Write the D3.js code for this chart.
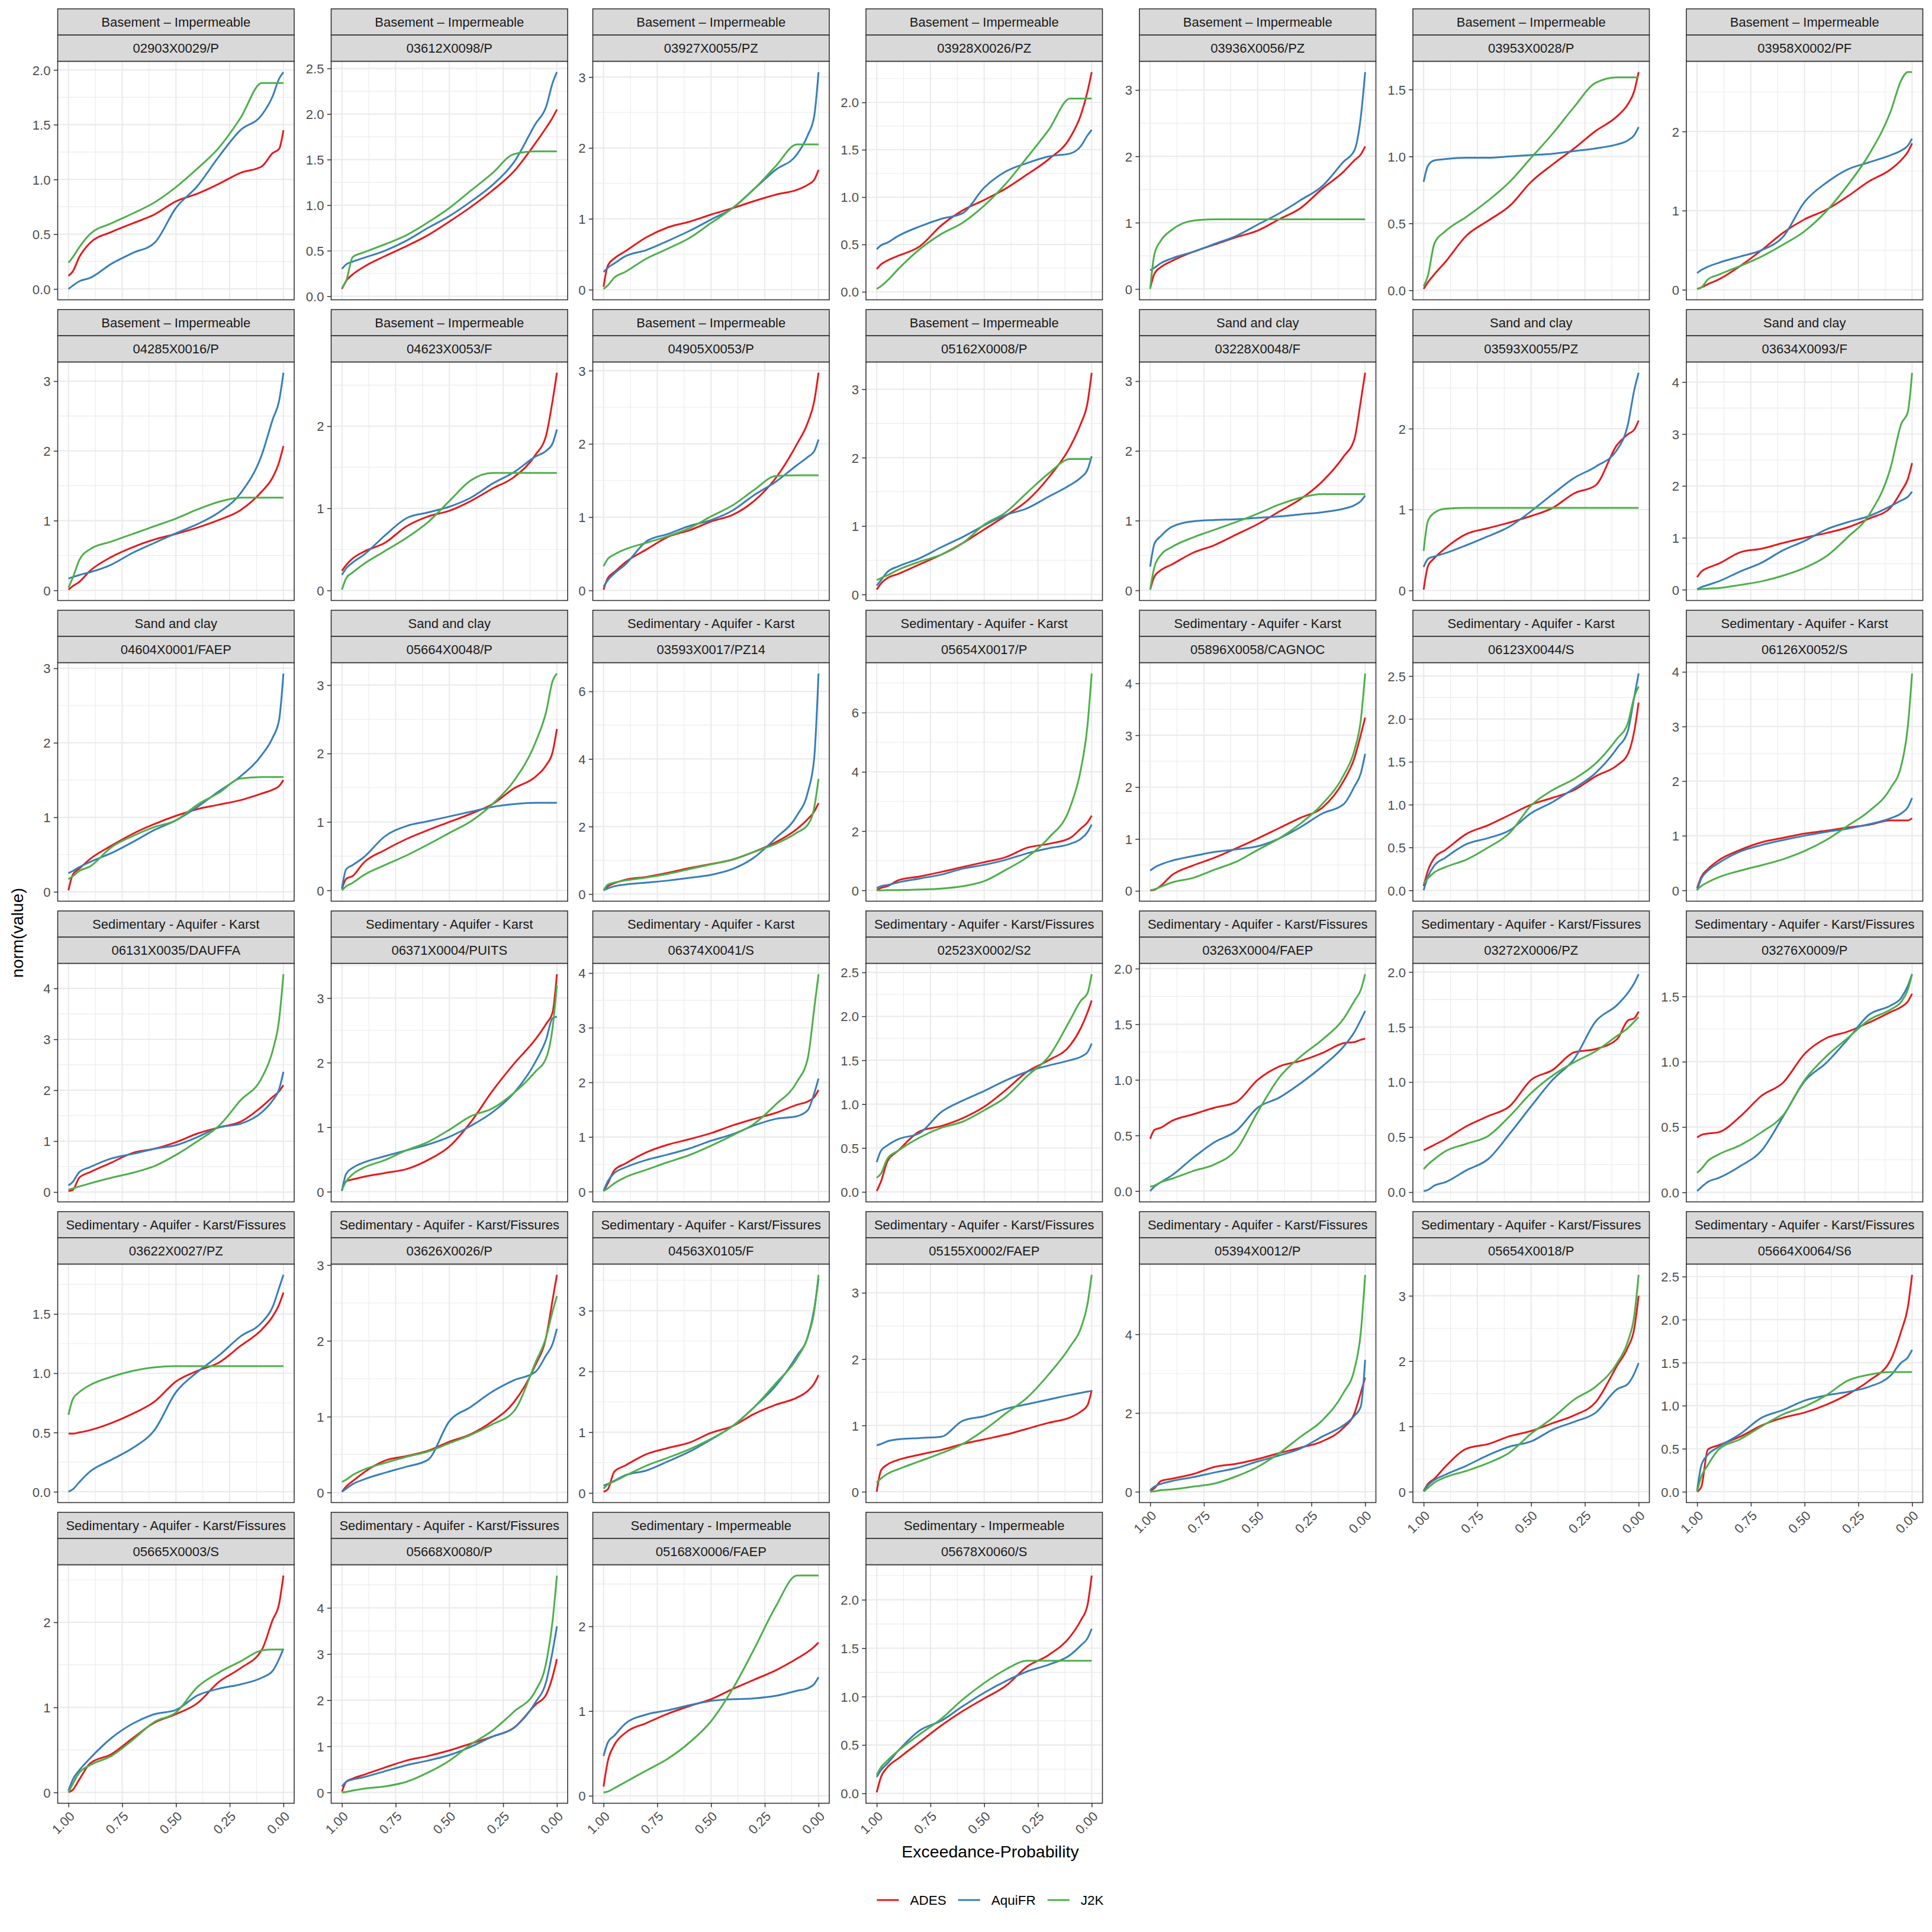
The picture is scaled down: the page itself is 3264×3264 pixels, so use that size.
<!DOCTYPE html>
<html><head><meta charset="utf-8">
<script src="https://cdn.jsdelivr.net/npm/d3@7"></script>
<style>html,body{margin:0;padding:0;background:#fff;}svg{display:block;}</style>
</head><body>
<script>
// ---------------- data ----------------
const probs = [1, 0.98, 0.95, 0.9, 0.8, 0.7, 0.6, 0.5, 0.4, 0.3, 0.2, 0.1, 0.05, 0.02, 0];
const seriesNames = ["ADES", "AquiFR", "J2K"];
const seriesColors = ["#E41A1C", "#377EB8", "#4DAF4A"];
const xTickValues = [1, 0.75, 0.5, 0.25, 0];
const xTickLabels = ["1.00", "0.75", "0.50", "0.25", "0.00"];
const xMinorValues = [0.875, 0.625, 0.375, 0.125];
const xTitle = "Exceedance-Probability";
const yTitle = "norm(value)";

const BI = "Basement \u2013 Impermeable", SC = "Sand and clay", SK = "Sedimentary - Aquifer - Karst",
      SKF = "Sedimentary - Aquifer - Karst/Fissures", SI = "Sedimentary - Impermeable";
const categories = [BI,BI,BI,BI,BI,BI,BI, BI,BI,BI,BI,SC,SC,SC, SC,SC,SK,SK,SK,SK,SK,
  SK,SK,SK,SKF,SKF,SKF,SKF, SKF,SKF,SKF,SKF,SKF,SKF,SKF, SKF,SKF,SI,SI];
const stations = ["02903X0029/P","03612X0098/P","03927X0055/PZ","03928X0026/PZ","03936X0056/PZ","03953X0028/P","03958X0002/PF",
  "04285X0016/P","04623X0053/F","04905X0053/P","05162X0008/P","03228X0048/F","03593X0055/PZ","03634X0093/F",
  "04604X0001/FAEP","05664X0048/P","03593X0017/PZ14","05654X0017/P","05896X0058/CAGNOC","06123X0044/S","06126X0052/S",
  "06131X0035/DAUFFA","06371X0004/PUITS","06374X0041/S","02523X0002/S2","03263X0004/FAEP","03272X0006/PZ","03276X0009/P",
  "03622X0027/PZ","03626X0026/P","04563X0105/F","05155X0002/FAEP","05394X0012/P","05654X0018/P","05664X0064/S6",
  "05665X0003/S","05668X0080/P","05168X0006/FAEP","05678X0060/S"];
const yTicks = [
  [0,0.5,1,1.5,2],[0,0.5,1,1.5,2,2.5],[0,1,2,3],[0,0.5,1,1.5,2],[0,1,2,3],[0,0.5,1,1.5],[0,1,2],
  [0,1,2,3],[0,1,2],[0,1,2,3],[0,1,2,3],[0,1,2,3],[0,1,2],[0,1,2,3,4],
  [0,1,2,3],[0,1,2,3],[0,2,4,6],[0,2,4,6],[0,1,2,3,4],[0,0.5,1,1.5,2,2.5],[0,1,2,3,4],
  [0,1,2,3,4],[0,1,2,3],[0,1,2,3,4],[0,0.5,1,1.5,2,2.5],[0,0.5,1,1.5,2],[0,0.5,1,1.5,2],[0,0.5,1,1.5],
  [0,0.5,1,1.5],[0,1,2,3],[0,1,2,3],[0,1,2,3],[0,2,4],[0,1,2,3],[0,0.5,1,1.5,2,2.5],
  [0,1,2],[0,1,2,3,4],[0,1,2],[0,0.5,1,1.5,2]];

const adesValues = [
  [0.12,0.16,0.29,0.42,0.52,0.60,0.68,0.80,0.87,0.96,1.06,1.12,1.24,1.28,1.45],
  [0.08,0.17,0.24,0.32,0.44,0.55,0.67,0.82,0.98,1.16,1.37,1.68,1.85,1.96,2.05],
  [0.04,0.34,0.44,0.54,0.74,0.88,0.96,1.06,1.15,1.25,1.34,1.41,1.48,1.55,1.69],
  [0.24,0.29,0.33,0.38,0.48,0.70,0.86,0.97,1.09,1.24,1.40,1.63,1.87,2.11,2.32],
  [0.01,0.23,0.33,0.42,0.56,0.67,0.78,0.88,1.05,1.22,1.51,1.77,1.94,2.03,2.15],
  [0.01,0.06,0.12,0.21,0.41,0.52,0.63,0.81,0.94,1.06,1.19,1.30,1.39,1.49,1.63],
  [0.01,0.03,0.07,0.13,0.30,0.50,0.72,0.89,1.01,1.18,1.37,1.52,1.64,1.74,1.85],
  [0.01,0.06,0.12,0.28,0.48,0.62,0.73,0.81,0.90,1.01,1.15,1.42,1.62,1.84,2.07],
  [0.24,0.31,0.39,0.47,0.58,0.78,0.90,0.97,1.09,1.24,1.38,1.65,1.89,2.31,2.65],
  [0.01,0.17,0.25,0.38,0.56,0.73,0.82,0.94,1.03,1.22,1.53,2.00,2.29,2.58,2.97],
  [0.07,0.16,0.24,0.30,0.44,0.58,0.75,0.95,1.15,1.37,1.71,2.16,2.50,2.79,3.24],
  [0.01,0.20,0.29,0.37,0.54,0.65,0.80,0.95,1.13,1.31,1.56,1.92,2.17,2.72,3.12],
  [0.01,0.30,0.40,0.52,0.70,0.77,0.84,0.92,1.02,1.20,1.30,1.80,1.93,1.99,2.10],
  [0.24,0.35,0.42,0.50,0.72,0.79,0.90,1.00,1.09,1.20,1.37,1.58,1.90,2.13,2.44],
  [0.02,0.23,0.31,0.44,0.62,0.78,0.91,1.02,1.11,1.17,1.23,1.32,1.37,1.42,1.50],
  [0.02,0.17,0.21,0.40,0.59,0.75,0.88,1.00,1.12,1.26,1.49,1.66,1.83,2.02,2.36],
  [0.11,0.23,0.32,0.42,0.51,0.63,0.77,0.89,1.02,1.25,1.53,1.93,2.22,2.44,2.69],
  [0.01,0.08,0.14,0.34,0.47,0.62,0.79,0.95,1.12,1.44,1.57,1.77,2.09,2.29,2.52],
  [0.01,0.02,0.10,0.30,0.49,0.64,0.82,1.01,1.21,1.41,1.60,2.12,2.56,3.01,3.34],
  [0.05,0.23,0.38,0.47,0.66,0.76,0.88,1.00,1.08,1.17,1.33,1.46,1.59,1.86,2.19],
  [0.04,0.25,0.39,0.55,0.74,0.88,0.96,1.04,1.09,1.15,1.20,1.28,1.28,1.28,1.32],
  [0.02,0.04,0.28,0.39,0.58,0.77,0.85,0.98,1.15,1.27,1.38,1.68,1.87,1.98,2.10],
  [0.03,0.16,0.19,0.23,0.29,0.35,0.49,0.70,1.08,1.56,1.98,2.36,2.60,2.78,3.37],
  [0.01,0.15,0.39,0.51,0.72,0.86,0.96,1.07,1.21,1.33,1.44,1.59,1.65,1.73,1.86],
  [0.01,0.12,0.35,0.47,0.69,0.75,0.84,0.97,1.16,1.37,1.50,1.67,1.87,2.04,2.18],
  [0.47,0.55,0.57,0.63,0.69,0.75,0.80,1.00,1.12,1.17,1.24,1.33,1.34,1.36,1.37],
  [0.38,0.40,0.43,0.48,0.60,0.69,0.78,1.02,1.11,1.27,1.30,1.39,1.56,1.58,1.64],
  [0.42,0.44,0.45,0.46,0.58,0.74,0.84,1.06,1.18,1.23,1.30,1.38,1.42,1.46,1.52],
  [0.49,0.49,0.50,0.52,0.58,0.66,0.76,0.93,1.02,1.09,1.23,1.37,1.48,1.58,1.68],
  [0.01,0.08,0.15,0.26,0.42,0.48,0.55,0.67,0.77,0.94,1.19,1.68,2.05,2.54,2.87],
  [0.02,0.06,0.35,0.45,0.64,0.74,0.83,0.99,1.10,1.30,1.45,1.57,1.68,1.80,1.94],
  [0.00,0.32,0.41,0.48,0.56,0.63,0.72,0.79,0.86,0.95,1.04,1.12,1.21,1.30,1.53],
  [0.01,0.09,0.27,0.33,0.45,0.63,0.71,0.83,0.98,1.12,1.28,1.63,1.99,2.52,2.90],
  [0.01,0.12,0.20,0.38,0.66,0.73,0.85,0.93,1.05,1.17,1.37,1.93,2.21,2.50,3.00],
  [0.00,0.06,0.49,0.54,0.64,0.77,0.86,0.92,1.01,1.13,1.29,1.53,1.87,2.14,2.52],
  [0.00,0.03,0.15,0.34,0.45,0.64,0.82,0.92,1.05,1.30,1.46,1.68,2.03,2.22,2.55],
  [0.02,0.23,0.30,0.38,0.54,0.69,0.79,0.91,1.06,1.21,1.40,1.90,2.12,2.51,2.89],
  [0.11,0.41,0.60,0.74,0.86,0.97,1.06,1.14,1.26,1.37,1.48,1.62,1.70,1.76,1.81],
  [0.01,0.17,0.27,0.36,0.53,0.70,0.85,0.98,1.11,1.31,1.43,1.62,1.79,1.94,2.25]];

const aquifrValues = [
  [0.00,0.03,0.07,0.10,0.23,0.33,0.42,0.74,0.94,1.21,1.45,1.59,1.76,1.92,1.98],
  [0.30,0.35,0.38,0.42,0.50,0.61,0.75,0.88,1.04,1.22,1.47,1.89,2.08,2.34,2.46],
  [0.25,0.31,0.37,0.47,0.56,0.69,0.83,0.99,1.15,1.42,1.69,1.91,2.18,2.45,3.07],
  [0.45,0.49,0.52,0.59,0.69,0.77,0.83,1.10,1.27,1.36,1.43,1.46,1.54,1.65,1.71],
  [0.28,0.32,0.39,0.46,0.56,0.68,0.80,0.97,1.14,1.34,1.55,1.92,2.09,2.60,3.27],
  [0.81,0.93,0.97,0.98,0.99,0.99,1.00,1.01,1.02,1.04,1.06,1.09,1.12,1.16,1.22],
  [0.21,0.25,0.29,0.34,0.42,0.50,0.67,1.11,1.35,1.52,1.61,1.70,1.76,1.82,1.91],
  [0.17,0.19,0.22,0.26,0.37,0.54,0.68,0.82,0.95,1.12,1.39,1.95,2.45,2.72,3.12],
  [0.19,0.27,0.34,0.43,0.67,0.88,0.95,1.02,1.13,1.30,1.44,1.63,1.70,1.79,1.96],
  [0.05,0.14,0.23,0.35,0.67,0.77,0.88,0.96,1.09,1.30,1.48,1.71,1.82,1.90,2.06],
  [0.13,0.21,0.33,0.41,0.53,0.69,0.84,1.01,1.16,1.26,1.43,1.60,1.71,1.82,2.02],
  [0.34,0.67,0.78,0.91,0.99,1.01,1.02,1.04,1.06,1.09,1.12,1.17,1.22,1.28,1.36],
  [0.29,0.39,0.42,0.46,0.56,0.67,0.79,0.98,1.19,1.39,1.53,1.74,2.05,2.48,2.69],
  [0.01,0.05,0.09,0.16,0.35,0.52,0.76,0.94,1.16,1.30,1.42,1.61,1.72,1.79,1.89],
  [0.25,0.28,0.33,0.40,0.52,0.67,0.83,0.96,1.14,1.35,1.55,1.84,2.07,2.31,2.93],
  [0.03,0.31,0.37,0.48,0.79,0.94,1.01,1.08,1.15,1.22,1.26,1.28,1.28,1.28,1.28],
  [0.11,0.17,0.23,0.28,0.34,0.40,0.48,0.57,0.74,1.08,1.65,2.33,3.01,4.03,6.53],
  [0.08,0.14,0.18,0.27,0.40,0.53,0.73,0.86,1.03,1.25,1.42,1.57,1.74,1.96,2.22],
  [0.39,0.45,0.51,0.58,0.67,0.75,0.80,0.86,1.01,1.23,1.49,1.67,2.01,2.27,2.64],
  [0.00,0.16,0.29,0.38,0.54,0.61,0.70,0.90,1.03,1.19,1.37,1.66,1.86,2.26,2.53],
  [0.00,0.22,0.36,0.50,0.71,0.83,0.92,1.00,1.07,1.13,1.21,1.32,1.41,1.52,1.69],
  [0.13,0.20,0.39,0.49,0.66,0.75,0.85,0.92,1.08,1.27,1.34,1.57,1.80,2.02,2.36],
  [0.01,0.28,0.37,0.45,0.55,0.64,0.73,0.85,1.02,1.23,1.53,2.01,2.36,2.69,2.71],
  [0.01,0.19,0.34,0.44,0.58,0.68,0.79,0.93,1.05,1.21,1.33,1.38,1.49,1.80,2.07],
  [0.34,0.47,0.53,0.60,0.67,0.91,1.04,1.15,1.27,1.37,1.44,1.50,1.54,1.59,1.69],
  [0.00,0.04,0.08,0.14,0.30,0.44,0.54,0.75,0.84,0.97,1.12,1.30,1.43,1.54,1.62],
  [0.01,0.02,0.06,0.09,0.20,0.30,0.53,0.78,1.02,1.21,1.55,1.70,1.81,1.90,1.98],
  [0.01,0.04,0.08,0.11,0.20,0.32,0.58,0.85,0.99,1.17,1.36,1.43,1.49,1.58,1.67],
  [0.00,0.02,0.08,0.17,0.27,0.37,0.52,0.84,1.01,1.15,1.31,1.43,1.56,1.72,1.83],
  [0.01,0.05,0.11,0.17,0.26,0.34,0.43,0.94,1.13,1.33,1.48,1.59,1.81,1.96,2.16],
  [0.12,0.15,0.20,0.29,0.37,0.52,0.68,0.88,1.10,1.41,1.76,2.26,2.57,3.03,3.53],
  [0.70,0.72,0.76,0.79,0.81,0.83,1.07,1.14,1.25,1.32,1.39,1.46,1.49,1.51,1.52],
  [0.04,0.13,0.20,0.27,0.37,0.49,0.60,0.77,0.92,1.10,1.40,1.69,1.93,2.17,3.35],
  [0.01,0.10,0.18,0.26,0.40,0.56,0.69,0.77,0.95,1.07,1.21,1.57,1.65,1.81,1.97],
  [0.01,0.31,0.43,0.52,0.67,0.86,0.95,1.06,1.12,1.16,1.22,1.35,1.50,1.56,1.65],
  [0.02,0.15,0.26,0.40,0.64,0.81,0.92,0.97,1.14,1.22,1.27,1.35,1.43,1.57,1.69],
  [0.13,0.23,0.28,0.33,0.46,0.59,0.69,0.81,0.99,1.21,1.40,1.95,2.40,3.06,3.60],
  [0.47,0.63,0.71,0.85,0.96,1.01,1.07,1.12,1.14,1.15,1.18,1.24,1.27,1.32,1.40],
  [0.17,0.24,0.31,0.44,0.65,0.75,0.90,1.04,1.16,1.26,1.33,1.43,1.53,1.60,1.70]];

const j2kValues = [
  [0.24,0.29,0.38,0.50,0.60,0.69,0.79,0.93,1.10,1.29,1.56,1.88,1.88,1.88,1.88],
  [0.09,0.17,0.43,0.48,0.57,0.67,0.81,0.97,1.16,1.35,1.56,1.59,1.59,1.59,1.59],
  [0.01,0.06,0.17,0.25,0.44,0.58,0.73,0.94,1.15,1.42,1.74,2.05,2.05,2.05,2.05],
  [0.03,0.06,0.12,0.24,0.45,0.61,0.73,0.91,1.14,1.42,1.71,2.04,2.04,2.04,2.04],
  [0.00,0.53,0.73,0.89,1.03,1.05,1.05,1.05,1.05,1.05,1.05,1.05,1.05,1.05,1.05],
  [0.03,0.11,0.35,0.44,0.55,0.67,0.81,0.99,1.17,1.37,1.55,1.59,1.59,1.59,1.59],
  [0.01,0.03,0.13,0.19,0.30,0.42,0.57,0.74,0.99,1.32,1.71,2.25,2.65,2.75,2.75],
  [0.04,0.18,0.43,0.59,0.70,0.81,0.92,1.03,1.16,1.27,1.33,1.33,1.33,1.33,1.33],
  [0.01,0.15,0.22,0.32,0.48,0.64,0.83,1.09,1.34,1.43,1.43,1.43,1.43,1.43,1.43],
  [0.33,0.43,0.49,0.56,0.65,0.74,0.85,1.01,1.16,1.37,1.56,1.57,1.57,1.57,1.57],
  [0.21,0.24,0.28,0.36,0.48,0.58,0.75,1.02,1.20,1.49,1.77,1.98,1.98,1.98,1.98],
  [0.01,0.34,0.51,0.62,0.76,0.87,0.98,1.10,1.23,1.33,1.38,1.38,1.38,1.38,1.38],
  [0.49,0.86,0.96,1.01,1.02,1.02,1.02,1.02,1.02,1.02,1.02,1.02,1.02,1.02,1.02],
  [0.00,0.01,0.02,0.03,0.09,0.16,0.27,0.42,0.64,1.01,1.44,2.35,3.20,3.42,4.18],
  [0.17,0.21,0.28,0.34,0.60,0.75,0.87,0.96,1.17,1.33,1.52,1.54,1.54,1.54,1.54],
  [0.00,0.06,0.11,0.22,0.37,0.51,0.67,0.84,1.01,1.26,1.60,2.16,2.61,3.06,3.17],
  [0.11,0.28,0.34,0.40,0.49,0.60,0.74,0.88,1.02,1.25,1.48,1.82,2.05,2.56,3.41],
  [0.00,0.00,0.01,0.01,0.03,0.06,0.14,0.31,0.69,1.12,1.77,2.81,4.10,5.53,7.32],
  [0.01,0.03,0.08,0.16,0.25,0.41,0.56,0.79,1.01,1.30,1.67,2.23,2.71,3.30,4.19],
  [0.08,0.14,0.21,0.27,0.36,0.50,0.67,0.99,1.17,1.30,1.48,1.77,1.95,2.26,2.38],
  [0.01,0.08,0.15,0.24,0.36,0.46,0.57,0.72,0.92,1.18,1.45,1.87,2.29,2.99,3.97],
  [0.05,0.07,0.11,0.17,0.28,0.38,0.51,0.73,1.00,1.30,1.80,2.25,2.78,3.39,4.28],
  [0.03,0.16,0.27,0.37,0.49,0.64,0.77,0.96,1.17,1.29,1.53,1.86,2.07,2.54,3.20],
  [0.01,0.06,0.15,0.26,0.40,0.54,0.67,0.84,1.03,1.24,1.59,2.01,2.44,3.35,3.98],
  [0.16,0.21,0.38,0.47,0.62,0.73,0.80,0.93,1.08,1.32,1.54,1.96,2.18,2.26,2.48],
  [0.04,0.05,0.08,0.11,0.18,0.24,0.37,0.71,1.02,1.21,1.36,1.55,1.71,1.81,1.95],
  [0.21,0.25,0.30,0.37,0.44,0.51,0.69,0.90,1.06,1.18,1.28,1.42,1.49,1.55,1.59],
  [0.15,0.18,0.24,0.29,0.36,0.46,0.59,0.86,1.04,1.18,1.32,1.40,1.46,1.55,1.67],
  [0.65,0.78,0.84,0.90,0.97,1.02,1.05,1.06,1.06,1.06,1.06,1.06,1.06,1.06,1.06],
  [0.14,0.17,0.23,0.30,0.39,0.47,0.54,0.65,0.76,0.90,1.07,1.71,2.05,2.39,2.59],
  [0.07,0.14,0.19,0.28,0.45,0.58,0.72,0.89,1.10,1.41,1.80,2.22,2.57,2.99,3.59],
  [0.14,0.20,0.27,0.34,0.46,0.58,0.72,0.93,1.18,1.42,1.77,2.19,2.47,2.82,3.27],
  [0.00,0.01,0.04,0.06,0.13,0.21,0.39,0.63,0.98,1.40,1.81,2.52,3.11,4.06,5.51],
  [0.00,0.06,0.14,0.22,0.32,0.44,0.60,0.89,1.13,1.41,1.61,1.97,2.30,2.70,3.32],
  [0.00,0.18,0.31,0.49,0.61,0.76,0.90,0.99,1.12,1.29,1.36,1.39,1.39,1.39,1.39],
  [0.00,0.10,0.23,0.32,0.43,0.62,0.83,0.94,1.24,1.41,1.54,1.67,1.68,1.68,1.68],
  [0.00,0.01,0.04,0.08,0.13,0.23,0.43,0.69,1.04,1.34,1.75,2.20,2.81,3.72,4.70],
  [0.04,0.05,0.09,0.16,0.30,0.44,0.63,0.88,1.26,1.73,2.23,2.60,2.60,2.60,2.60],
  [0.19,0.27,0.34,0.44,0.61,0.77,0.97,1.14,1.28,1.37,1.37,1.37,1.37,1.37,1.37]];

// ---------------- layout & style ----------------
const W = 3264, H = 3264;
const NCOL = 7;
const colLeft = [97.5, 559.5, 1001.5, 1463, 1925, 2387, 2849];
const panelW = 399.5, panelH = 403, rowPitch = 508, firstStripTop = 15, stripH = 44.25;
const tickLen = 6.7, tickPad = 5.4;
const FONT = "'Liberation Sans', Arial, Helvetica, sans-serif";
const smallFont = 22, titleFont = 28.5, legendFont = 22.5;
const gridCol = "#EBEBEB", borderCol = "#333333";

const svg = d3.select("body").append("svg")
  .attr("width", W).attr("height", H).attr("viewBox", `0 0 ${W} ${H}`)
  .style("font-family", FONT);
svg.append("rect").attr("width", W).attr("height", H).attr("fill", "#fff");

const allSeries = [adesValues, aquifrValues, j2kValues];
const nPanels = stations.length;

for (let i = 0; i < nPanels; i++) {
  const r = Math.floor(i / NCOL), c = i % NCOL;
  const L = colLeft[c];
  const sTop = firstStripTop + r * rowPitch;
  const pTop = sTop + 2 * stripH;
  const pBot = pTop + panelH;

  const x = d3.scaleLinear().domain([1.05, -0.05]).range([L, L + panelW]);
  const vals = allSeries.flatMap(s => s[i]);
  const lo = d3.min(vals), hi = d3.max(vals), pad = (hi - lo) * 0.05;
  const y = d3.scaleLinear().domain([lo - pad, hi + pad]).range([pBot, pTop]);
  const [dLo, dHi] = y.domain();

  const ticks = yTicks[i];
  const dec = ticks.some(t => !Number.isInteger(t)) ? 1 : 0;
  const step = ticks[1] - ticks[0];
  const ext = [ticks[0] - step, ...ticks, ticks[ticks.length - 1] + step];
  const yMinor = d3.pairs(ext).map(([a, b]) => (a + b) / 2).filter(v => v >= dLo && v <= dHi);
  const yMajor = ticks.filter(v => v >= dLo && v <= dHi);

  const g = svg.append("g");
  g.append("rect").attr("x", L).attr("y", pTop).attr("width", panelW).attr("height", panelH).attr("fill", "#fff");

  // minor grid
  g.selectAll(null).data(xMinorValues).join("line")
    .attr("x1", d => x(d)).attr("x2", d => x(d)).attr("y1", pTop).attr("y2", pBot)
    .attr("stroke", gridCol).attr("stroke-width", 1.1);
  g.selectAll(null).data(yMinor).join("line")
    .attr("x1", L).attr("x2", L + panelW).attr("y1", d => y(d)).attr("y2", d => y(d))
    .attr("stroke", gridCol).attr("stroke-width", 1.1);
  // major grid
  g.selectAll(null).data(xTickValues).join("line")
    .attr("x1", d => x(d)).attr("x2", d => x(d)).attr("y1", pTop).attr("y2", pBot)
    .attr("stroke", gridCol).attr("stroke-width", 2.2);
  g.selectAll(null).data(yMajor).join("line")
    .attr("x1", L).attr("x2", L + panelW).attr("y1", d => y(d)).attr("y2", d => y(d))
    .attr("stroke", gridCol).attr("stroke-width", 2.2);

  // series lines
  const line = d3.line().x((d, k) => x(probs[k])).y(d => y(d)).curve(d3.curveMonotoneX);
  allSeries.forEach((s, si) => {
    g.append("path").attr("d", line(s[i])).attr("fill", "none")
      .attr("stroke", seriesColors[si]).attr("stroke-width", 3)
      .attr("stroke-linejoin", "round").attr("stroke-linecap", "butt");
  });

  // panel border
  g.append("rect").attr("x", L).attr("y", pTop).attr("width", panelW).attr("height", panelH)
    .attr("fill", "none").attr("stroke", borderCol).attr("stroke-width", 1.6);

  // strips
  [categories[i], stations[i]].forEach((txt, k) => {
    const top = sTop + k * stripH;
    g.append("rect").attr("x", L).attr("y", top).attr("width", panelW).attr("height", stripH)
      .attr("fill", "#D9D9D9").attr("stroke", borderCol).attr("stroke-width", 1.6);
    g.append("text").attr("x", L + panelW / 2).attr("y", top + stripH / 2)
      .attr("dy", "0.36em").attr("text-anchor", "middle")
      .attr("font-size", smallFont).attr("fill", "#1A1A1A").text(txt);
  });

  // y axis
  const ya = g.append("g").attr("transform", `translate(${L},0)`)
    .call(d3.axisLeft(y).tickValues(yMajor).tickSize(tickLen).tickPadding(tickPad)
      .tickFormat(d => d.toFixed(dec)));
  ya.select(".domain").remove();
  ya.attr("font-size", smallFont).attr("font-family", FONT);
  ya.selectAll(".tick line").attr("stroke", borderCol).attr("stroke-width", 1.5);
  ya.selectAll(".tick text").attr("fill", "#4D4D4D").attr("dy", "0.36em");

  // x axis for bottom panel of each column
  if (i + NCOL >= nPanels) {
    const xa = g.append("g").attr("transform", `translate(0,${pBot})`)
      .call(d3.axisBottom(x).tickValues(xTickValues).tickSize(tickLen)
        .tickFormat((d, k) => xTickLabels[k]));
    xa.select(".domain").remove();
    xa.attr("font-size", smallFont).attr("font-family", FONT);
    xa.selectAll(".tick line").attr("stroke", borderCol).attr("stroke-width", 1.5);
    xa.selectAll(".tick text").attr("fill", "#4D4D4D")
      .attr("x", 0).attr("y", 0).attr("dy", "0.72em").attr("text-anchor", "end")
      .attr("transform", `translate(0,${tickLen + tickPad}) rotate(-45)`);
  }
}

// axis titles
const plotCenterX = (colLeft[0] + colLeft[NCOL - 1] + panelW) / 2;
svg.append("text").attr("x", plotCenterX).attr("y", 3128).attr("dy", "0.35em")
  .attr("text-anchor", "middle").attr("font-size", titleFont).attr("fill", "#000").text(xTitle);
svg.append("text").attr("transform", "translate(29,1576) rotate(-90)").attr("dy", "0.35em")
  .attr("text-anchor", "middle").attr("font-size", titleFont).attr("fill", "#000").text(yTitle);

// legend
const legY = 3210, keyW = 37, keyGap = 19, itemGap = 20;
const leg = svg.append("g");
const items = seriesNames.map((name, k) => {
  const gi = leg.append("g");
  gi.append("line").attr("x1", 0).attr("x2", keyW).attr("y1", 0).attr("y2", 0)
    .attr("stroke", seriesColors[k]).attr("stroke-width", 3);
  const t = gi.append("text").attr("x", keyW + keyGap).attr("y", 0).attr("dy", "0.36em")
    .attr("font-size", legendFont).attr("fill", "#000").text(name);
  return { gi, w: keyW + keyGap + t.node().getComputedTextLength() };
});
const totalW = d3.sum(items, d => d.w) + itemGap * (items.length - 1);
let cx = plotCenterX - totalW / 2;
items.forEach(it => { it.gi.attr("transform", `translate(${cx},${legY})`); cx += it.w + itemGap; });
</script>
</body></html>
